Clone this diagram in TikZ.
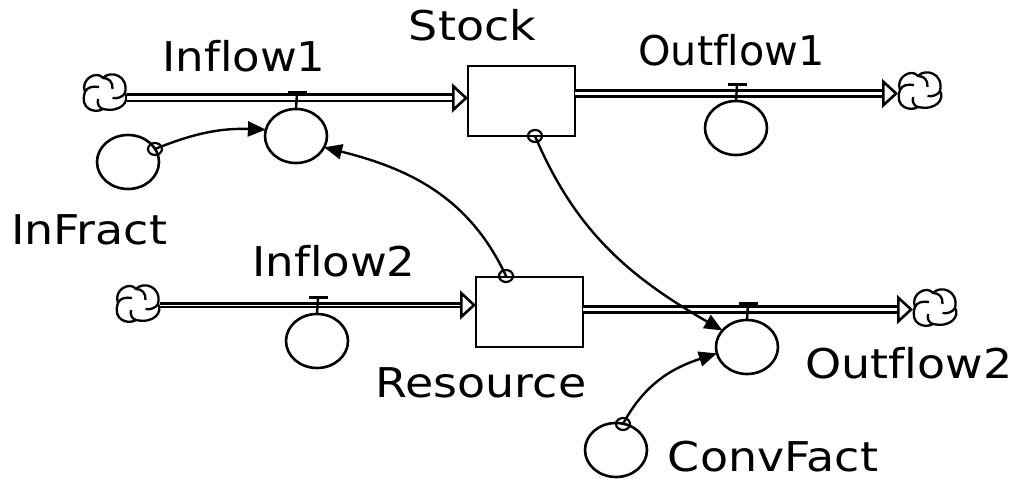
\documentclass[tikz,border=0pt]{standalone}
\usepackage{fontspec}
\setmainfont[FakeStretch=1.12, Ligatures=CommonOff]{DejaVu Sans}
\usetikzlibrary{arrows.meta, shapes.geometric}

\tikzset{
  flowlabel/.style={anchor=base, inner sep=0pt, font=\fontsize{41}{44}\selectfont},
  level/.style={draw, line width=2.7pt, minimum width=107pt, minimum height=70pt, inner sep=0pt, outer sep=0pt},
  valve/.style={draw, ellipse, line width=2.6pt, minimum width=62pt, minimum height=54pt, inner sep=0pt, outer sep=0pt},
  tapmark/.style={draw, ellipse, line width=2.2pt, minimum width=14pt, minimum height=12pt, inner sep=0pt, outer sep=0pt},
  pipeline/.style={draw, line width=2.6pt, double, double distance=#1,
    -{Triangle[open, length=16pt, width=29pt, fill=white, line width=2.6pt]}},
  pipeline/.default=3.8pt,
  infolink/.style={draw, line width=2.4pt, -{Triangle[length=18pt, width=15pt]}},
  cloudmark/.pic={
    \node[minimum width=44pt, minimum height=38pt, inner sep=0pt, outer sep=0pt] (-box) at (0,0) {};
    \draw[line width=2.3pt] (-20,1) .. controls (-25,14) and (-8,23) .. (-2,15) .. controls (4,15) and (8,11) .. (7.5,4);
    \draw[line width=2.3pt] (-2,15) .. controls (5,23) and (24,18) .. (20,0) .. controls (18,-4) and (12,-6) .. (7.5,-5);
    \draw[line width=2.3pt] (20,0) .. controls (25,-8) and (16,-20) .. (-2,-16) .. controls (-6,-15) and (-8,-11) .. (-7,-6);
    \draw[line width=2.3pt] (-2,-16) .. controls (-10,-21) and (-26,-16) .. (-20,1) .. controls (-18,6) and (-12,7) .. (-6,6);
  },
}

\begin{document}
\begin{tikzpicture}[x=1pt, y=1pt]
\useasboundingbox (0,0) rectangle (1021,479);

% Levels
\node[level] (stock) at (521.5,378) {};
\node[level] (resource) at (529.5,167) {};

% Clouds
\pic (cloudA) at (105,386) {cloudmark};
\pic (cloudB) at (920,388) {cloudmark};
\pic (cloudC) at (138,175) {cloudmark};
\pic (cloudD) at (935,171) {cloudmark};

% Valves and auxiliaries
\node[valve] (inflowA) at (296,343) {};
\node[valve] (outflowA) at (736,351) {};
\node[valve] (inflowB) at (317,138) {};
\node[valve] (outflowB) at (747,132) {};
\node[valve] (infract) at (128,317) {};
\node[valve] (convfact) at (616,29) {};

% Taps
\node[tapmark] (tapFract) at (155,330) {};
\node[tapmark] (tapStock) at (535,343) {};
\node[tapmark] (tapRes) at (506,203) {};
\node[tapmark] (tapConv) at (623,55) {};

% Pipes
\coordinate (inA) at ([yshift=3pt]stock.west);
\coordinate (outA) at ([yshift=7.5pt]stock.east);
\coordinate (inB) at ([yshift=7pt]resource.west);
\coordinate (outB) at ([yshift=2.5pt]resource.east);
\draw[pipeline] (cloudA-box.east |- inA) -- (inA);
\draw[pipeline=3.4pt] (outA) -- (cloudB-box.west |- outA);
\draw[pipeline=0.7pt] (cloudC-box.east |- inB) -- (inB);
\draw[pipeline=3.4pt] (outB) -- (cloudD-box.west |- outB);

% Valve handles
\foreach \v in {inflowA, outflowA, inflowB, outflowB} {
  \draw[line width=2.4pt] (\v.north) -- ++(1,16) coordinate (\v-top);
  \draw[line width=3pt] (\v-top) ++(-9.5,0) -- ++(19,0);
}

% Information links
\draw[infolink] (tapFract.center) to[out=22, in=178] (inflowA.168);
\draw[infolink] (tapRes.center) to[out=115, in=-14] (inflowA.-22);
\draw[infolink] (tapStock.center) to[out=-67, in=150] (outflowB.146);
\draw[infolink] (tapConv.center) to[out=62, in=-162] (outflowB.192);

% Labels
\node[flowlabel] (lblInflowA) at (244,407) {\scalebox{0.98}[1]{Inflow1}};
\node[flowlabel] (lblStock) at (472.5,438) {Stock};
\node[flowlabel] (lblOutflowA) at (731.5,413) {\scalebox{0.9}[1]{Outflow1}};
\node[flowlabel] (lblInFract) at (89,234) {InFract};
\node[flowlabel] (lblInflowB) at (334,202) {\scalebox{0.98}[1]{Inflow2}};
\node[flowlabel] (lblResource) at (481,81) {Resource};
\node[flowlabel] (lblOutflowB) at (909,100) {Outflow2};
\node[flowlabel] (lblConvFact) at (773,7) {ConvFact};

\end{tikzpicture}
\end{document}
